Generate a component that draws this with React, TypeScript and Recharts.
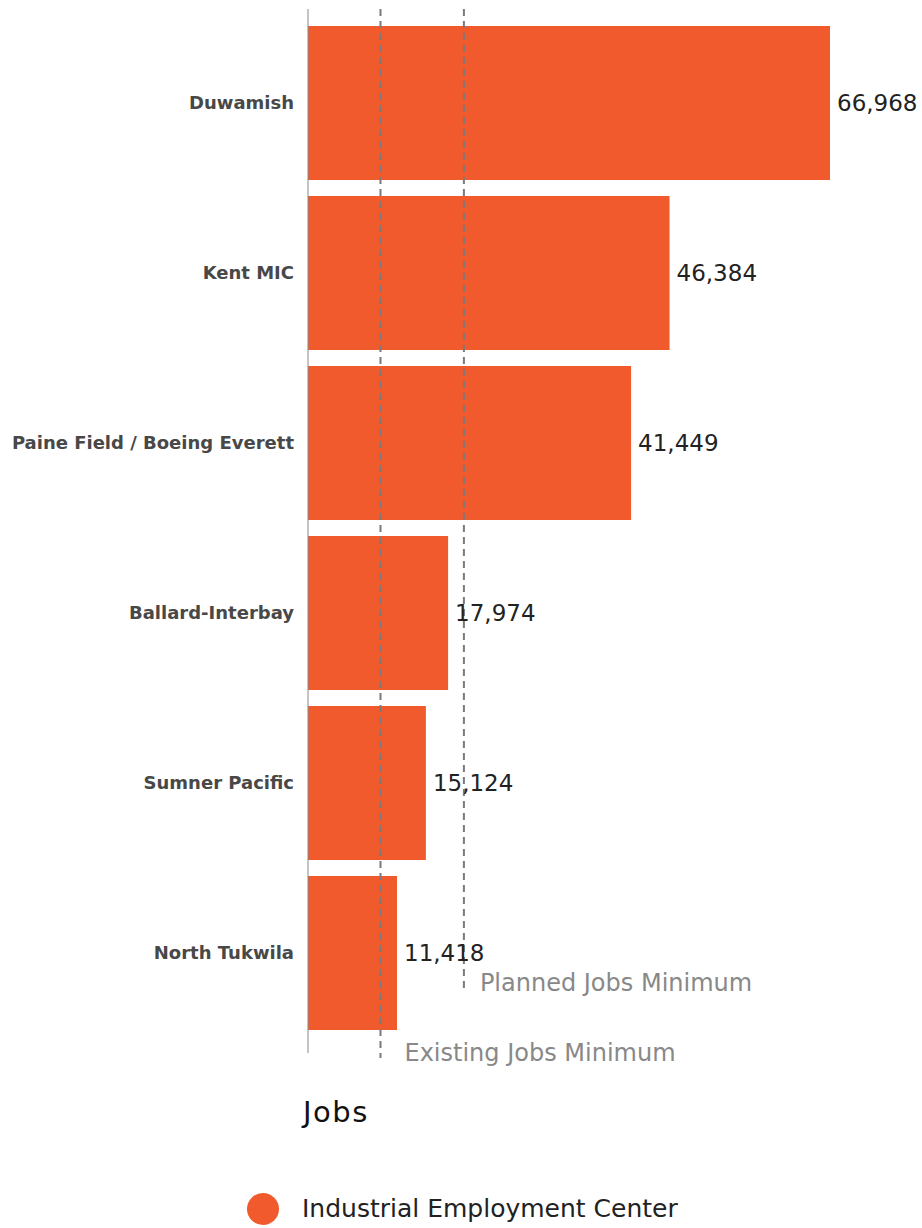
import React from 'react';
import { BarChart, Bar, XAxis, YAxis, ReferenceLine, LabelList } from 'recharts';

const categories = ['Duwamish', 'Kent MIC', 'Paine Field / Boeing Everett', 'Ballard-Interbay', 'Sumner Pacific', 'North Tukwila'];
const jobs = [66968, 46384, 41449, 17974, 15124, 11418];
const existingJobsMinimum = 9300;
const plannedJobsMinimum = 20000;
const seriesName = 'Industrial Employment Center';

const data = categories.map((name, i) => ({ name, jobs: jobs[i] }));

const ORANGE = '#F15A2C';
const GREY_LINE = '#7a7a7a';
const FONT = '"DejaVu Sans", sans-serif';

const makeRefShape = (label: string, extend: number, dx: number, dy: number) => (props: any) => {
  const { x1, y1, x2, y2 } = props;
  const yTop = Math.min(y1, y2);
  const yEnd = Math.max(y1, y2) + extend;
  return (
    <g>
      <line x1={x1} y1={yTop} x2={x2} y2={yEnd} stroke={GREY_LINE} strokeWidth={2} strokeDasharray="7 5" />
      <text x={x1 + dx} y={yEnd + dy} fill="#888" fontSize={24} fontFamily={FONT} dominantBaseline="central">
        {label}
      </text>
    </g>
  );
};

const fmt = (v: any) => Number(v).toLocaleString('en-US');

export default function App() {
  return (
    <div style={{ position: 'absolute', left: 0, top: 0, width: 922, height: 1228, background: '#fff', fontFamily: FONT }}>
      <BarChart
        width={922}
        height={1228}
        data={data}
        layout="vertical"
        margin={{ top: 9, right: 92, left: 0, bottom: 175 }}
        barCategoryGap={8}
      >
        <XAxis type="number" dataKey="jobs" domain={[0, 'dataMax']} hide />
        <YAxis
          type="category"
          dataKey="name"
          width={308}
          padding={{ top: 9, bottom: 15 }}
          tickLine={false}
          tickSize={0}
          tickMargin={14}
          axisLine={{ stroke: '#888', strokeWidth: 1 }}
          tick={{ fill: '#484848', fontSize: 18, fontWeight: 700, fontFamily: FONT }}
        />
        <Bar dataKey="jobs" fill={ORANGE} isAnimationActive={false}>
          <LabelList
            dataKey="jobs"
            position="right"
            offset={7}
            formatter={fmt}
            style={{ fill: '#222', fontSize: 23, fontFamily: FONT }}
          />
        </Bar>
        <ReferenceLine
          x={plannedJobsMinimum}
          ifOverflow="visible"
          shape={makeRefShape('Planned Jobs Minimum', -60, 16, -10)}
        />
        <ReferenceLine
          x={existingJobsMinimum}
          ifOverflow="visible"
          shape={makeRefShape('Existing Jobs Minimum', 5, 24, -5)}
        />
      </BarChart>
      <div style={{ position: 'absolute', left: 303, top: 1092, fontSize: 29, color: '#111', lineHeight: '40px', letterSpacing: 1.5 }}>Jobs</div>
      <div style={{ position: 'absolute', left: 247, top: 1193, display: 'flex', alignItems: 'center' }}>
        <div style={{ width: 32, height: 32, borderRadius: 16, background: ORANGE }} />
        <div style={{ marginLeft: 23, fontSize: 25, color: '#222', lineHeight: '32px' }}>{seriesName}</div>
      </div>
    </div>
  );
}
